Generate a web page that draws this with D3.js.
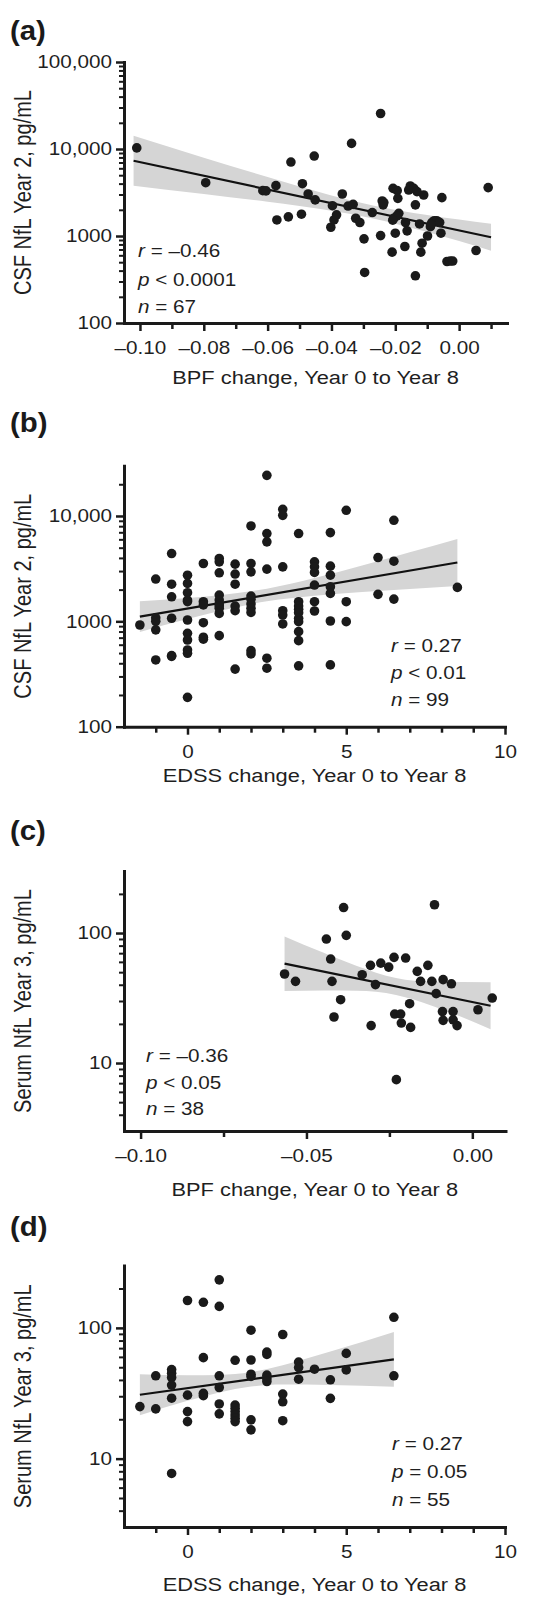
<!DOCTYPE html>
<html><head><meta charset="utf-8">
<script src="https://cdn.jsdelivr.net/npm/d3@7"></script>
<style>
html,body{margin:0;padding:0;background:#fff;}
svg{display:block;font-family:"Liberation Sans",Arial,Helvetica,sans-serif;}
svg text{font-family:"Liberation Sans",Arial,Helvetica,sans-serif;}
</style></head><body>
<svg id="chart" width="540" height="1607"></svg>
<script>
// ---------- Panel (a): CSF NfL Year 2 vs BPF change ----------
const aX = [-0.1010,-0.0794,-0.0615,-0.0605,-0.0574,-0.0571,-0.0535,-0.0527,-0.0494,-0.0491,
  -0.0473,-0.0454,-0.0451,-0.0402,-0.0397,-0.0392,-0.0384,-0.0366,-0.0348,-0.0337,
  -0.0332,-0.0324,-0.0311,-0.0298,-0.0296,-0.0272,-0.0246,-0.0246,-0.0241,-0.0238,
  -0.0236,-0.0210,-0.0207,-0.0205,-0.0200,-0.0194,-0.0192,-0.0189,-0.0195,-0.0170,
  -0.0168,-0.0163,-0.0158,-0.0153,-0.0142,-0.0137,-0.0137,-0.0132,-0.0124,-0.0120,
  -0.0116,-0.0111,-0.0099,-0.0090,-0.0085,-0.0078,-0.0070,-0.0061,-0.0057,-0.0054,
  -0.0038,-0.0028,-0.0020,0.0053,0.0091,-0.0088,-0.0208];
const aY = [10300,4100,3320,3300,3790,1530,1660,7080,1780,3990,
  3040,8300,2600,1260,2230,1530,1750,3040,2210,11600,
  2310,1600,1430,927,381,1860,25600,1010,2530,2280,
  2420,652,3530,1600,1077,3320,2710,1825,1700,757,
  1430,1146,3380,3760,3530,349,2280,3240,1376,652,
  826,2960,1000,1280,1430,1500,1500,1430,1077,2760,
  509,515,515,681,3600,1350,1520];
const aFitX = [-0.102, 0.010];
const aFitY = [7330, 968];
const aBandX = [-0.102,-0.08,-0.06,-0.04,-0.027,-0.01,0.01];
const aBandHi = [14160,7955,4760,2930,2244,1740,1384];
const aBandLo = [3793,3043,2470,1946,1589,1110,678];
const aXTicks = [-0.10,-0.08,-0.06,-0.04,-0.02,0.00];
const aXTickLabels = ["\u20130.10","\u20130.08","\u20130.06","\u20130.04","\u20130.02","0.00"];
const aXMinor = [-0.09,-0.07,-0.05,-0.03,-0.01,0.01];
const aYTicks = [100,1000,10000,100000];
const aYTickLabels = ["100","1000","10,000","100,000"];
const aYMinor = [200,300,400,500,600,700,800,900,2000,3000,4000,5000,6000,7000,8000,9000,20000,30000,40000,50000,60000,70000,80000,90000];
const aStats = [["r"," = \u20130.46"],["p"," < 0.0001"],["n"," = 67"]];

// ---------- Panel (b): CSF NfL Year 2 vs EDSS change ----------
const bEdss = [-1.5,-1,-0.5,0,0.5,1,1.5,2,2.5,3,3.5,4,4.5,5,6,6.5,8.5];
const bNfl = [
  [923],
  [2520,1080,1000,830,430],
  [4400,2250,1710,1070,473,465],
  [2740,2290,1870,1590,1540,1030,769,665,535,498,190],
  [3540,1535,1430,970,706,677],
  [3950,3670,2890,1775,1590,1460,1400,1330,1190,731],
  [3490,2810,2250,1395,1262,352],
  [8040,3540,2950,1738,1616,1460,1330,1216,527,491],
  [24300,6810,5680,3130,447,359],
  [11560,10140,3290,1262,1148,944],
  [6810,1535,1397,1300,1208,1067,993,798,656,378],
  [3670,3290,2910,2210,1535,1253],
  [6950,3340,2740,2130,1840,1007,386],
  [11320,1535,993],
  [4030,1803],
  [9100,3720,1625],
  [2100]
];
const bFitX = [-1.5, 8.5];
const bFitY = [1109, 3615];
const bBandX = [-1.5,0,1,2.5,4,5.5,7,8.5];
const bBandHi = [1549,1667,1770,2042,2576,3388,4519,6039];
const bBandLo = [794,1052,1253,1549,1750,1897,2028,2163];
const edssTicks = [0,5,10];
const edssTickLabels = ["0","5","10"];
const edssMinor = [-1,1,2,3,4,6,7,8,9];
const bYTicks = [100,1000,10000];
const bYTickLabels = ["100","1000","10,000"];
const bYMinor = [200,300,400,500,600,700,800,900,2000,3000,4000,5000,6000,7000,8000,9000,20000];
const bStats = [["r"," = 0.27"],["p"," < 0.01"],["n"," = 99"]];

// ---------- Panel (c): Serum NfL Year 3 vs BPF change ----------
const cX = [-0.0566,-0.0533,-0.0440,-0.0427,-0.0423,-0.0417,-0.0397,-0.0388,-0.0380,-0.0332,
  -0.0307,-0.0305,-0.0292,-0.0276,-0.0252,-0.0236,-0.0234,-0.0229,-0.0216,-0.0214,
  -0.0201,-0.0189,-0.0186,-0.0166,-0.0156,-0.0134,-0.0122,-0.0114,-0.0109,-0.0090,
  -0.0088,-0.0088,-0.0063,-0.0058,-0.0058,-0.0046,0.0017,0.0060];
const cY = [48.4,42.5,89.9,63.1,42.5,22.6,30.7,157,96,47.8,
  56.4,19.4,40.1,58.7,54.7,65,23.8,7.45,23.8,20.3,
  64.2,28.6,18.8,50.7,42.5,56.4,42.5,165,34.2,24.9,
  43.8,21.3,40.7,24.9,21.5,19.4,25.7,31.6];
const cFitX = [-0.0566, 0.0055];
const cFitY = [58.1, 27.6];
const cBandX = [-0.0566,-0.045,-0.035,-0.023,-0.012,0.0055];
const cBandHi = [94.2,70.8,56.1,45.1,42.1,41.8];
const cBandLo = [35.8,36.1,35.9,33.4,27.5,18.2];
const cXTicks = [-0.10,-0.05,0.00];
const cXTickLabels = ["\u20130.10","\u20130.05","0.00"];
const cXMinor = [-0.075,-0.025];
const serumYTicks = [10,100];
const serumYTickLabels = ["10","100"];
const serumYMinor = [4,5,6,7,8,9,20,30,40,50,60,70,80,90,200];
const cStats = [["r"," = \u20130.36"],["p"," < 0.05"],["n"," = 38"]];

// ---------- Panel (d): Serum NfL Year 3 vs EDSS change ----------
const dEdss = [-1.5,-1,-0.5,0,0.5,1,1.5,2,2.5,3,3.5,4,4.5,5,6.5];
const dNfl = [
  [25],
  [43,24],
  [48,45,41.7,36.5,29,7.7],
  [162,30.6,22.9,19.2],
  [157,59.2,31.6,30.3],
  [233,146,43,35,26.2,22],
  [56.5,25.7,24.3,22.9,21.6,20.4,19.2],
  [96,56.8,44.2,42.5,19.8,16.6],
  [65.3,62.7,43.5,41,38.9],
  [89,31.2,27.2,19.5],
  [54.8,49.7,40.5],
  [48.3],
  [40.1,28.9],
  [63.8,47.7],
  [120.5,43]
];
const dFitX = [-1.5, 6.5];
const dFitY = [30.8, 57.4];
const dBandX = [-1.5,0,1,2,3,4.5,6.5];
const dBandHi = [44.2,43.4,43.6,45.9,51.9,65.9,93.1];
const dBandLo = [21.5,27.7,32.1,35.6,36.9,36.6,35.4];
const dStats = [["r"," = 0.27"],["p"," = 0.05"],["n"," = 55"]];

const bpfTitle = "BPF change, Year 0 to Year 8";
const edssTitle = "EDSS change, Year 0 to Year 8";
const csfTitle = "CSF NfL Year 2, pg/mL";
const serumTitle = "Serum NfL Year 3, pg/mL";

// ---------- drawing ----------
const SX = 1.15;
const INK = "#1a1a1a";
const TXT = "#1f1f1f";
const FONT = "'Liberation Sans', Arial, Helvetica, sans-serif";
const svg = d3.select("#chart");

function flatten(xs, groups){
  const px = [], py = [];
  xs.forEach((x,i)=>groups[i].forEach(v=>{px.push(x); py.push(v);}));
  return [px, py];
}

function panel(c){
  const g = svg.append("g");
  const x = d3.scaleLinear().domain(c.xDomain).range([c.left, c.right]);
  const y = d3.scaleLog().domain(c.yDomain).range([c.bottom, c.top]);

  // confidence band
  const area = d3.area()
    .x(d=>x(d[0])).y0(d=>y(d[2])).y1(d=>y(d[1]))
    .curve(d3.curveMonotoneX);
  g.append("path").datum(d3.zip(c.bandX, c.bandHi, c.bandLo))
    .attr("d", area).attr("fill", "#d5d5d5");

  // regression line
  g.append("path").datum(d3.zip(c.fitX, c.fitY))
    .attr("d", d3.line().x(d=>x(d[0])).y(d=>y(d[1])))
    .attr("stroke", "#111").attr("stroke-width", 2.2).attr("fill", "none");

  // points
  g.append("g").selectAll("circle").data(d3.zip(c.px, c.py)).join("circle")
    .attr("cx", d=>x(d[0])).attr("cy", d=>y(d[1])).attr("r", 4.8)
    .attr("fill", INK);

  // y axis minor
  g.append("g").attr("transform", `translate(${c.left},0)`)
    .call(d3.axisLeft(y).tickValues(c.yMinor).tickSize(5).tickFormat(""))
    .call(s=>s.select(".domain").remove())
    .call(s=>s.selectAll("line").attr("stroke", INK).attr("stroke-width", 2));
  // y axis major
  const ya = g.append("g").attr("transform", `translate(${c.left},0)`)
    .call(d3.axisLeft(y).tickValues(c.yTicks).tickSize(8).tickSizeOuter(0)
      .tickFormat((d,i)=>c.yTickLabels[i]));
  // x axis minor
  g.append("g").attr("transform", `translate(0,${c.bottom})`)
    .call(d3.axisBottom(x).tickValues(c.xMinor).tickSize(6).tickFormat(""))
    .call(s=>s.select(".domain").remove())
    .call(s=>s.selectAll("line").attr("stroke", INK).attr("stroke-width", 2.5));
  // x axis major
  const xa = g.append("g").attr("transform", `translate(0,${c.bottom})`)
    .call(d3.axisBottom(x).tickValues(c.xTicks).tickSize(8).tickSizeOuter(0)
      .tickFormat((d,i)=>c.xTickLabels[i]));

  [ya, xa].forEach(a=>{
    a.attr("font-family", FONT).attr("font-size", 18);
    a.select(".domain").attr("stroke", INK).attr("stroke-width", 3).attr("stroke-linecap", "square");
    a.selectAll(".tick line").attr("stroke", INK).attr("stroke-width", 2.5);
    a.selectAll("text").attr("font-size", 18).attr("fill", TXT);
  });
  ya.selectAll("text").attr("x", -12/SX).attr("transform", `scale(${SX},1)`);
  xa.selectAll("text").attr("y", 0).attr("dy", null).attr("transform", `translate(0,31) scale(${SX},1)`);

  // x title
  g.append("text").attr("transform", `translate(${(c.left+c.right)/2},${c.xTitleY}) scale(${SX},1)`)
    .attr("text-anchor", "middle").attr("font-family", FONT).attr("font-size", 19).attr("fill", TXT).text(c.xTitle);
  // y title
  g.append("text").attr("transform", `translate(31,${(c.top+c.bottom)/2}) scale(${SX},1) rotate(-90)`)
    .attr("text-anchor", "middle").attr("font-family", FONT).attr("font-size", 20).attr("fill", TXT).text(c.yTitle);

  // panel label
  g.append("text").attr("transform", `translate(10,${c.labelY}) scale(1.05,1)`)
    .attr("font-family", FONT).attr("font-size", 28).attr("font-weight", "bold").attr("fill", "#1a1a1a").text(c.label);

  // stats
  c.stats.forEach((s,i)=>{
    const t = g.append("text")
      .attr("transform", `translate(${c.statX},${c.statY[i]}) scale(${SX},1)`)
      .attr("font-family", FONT).attr("font-size", 18).attr("fill", TXT);
    t.append("tspan").attr("font-style", "italic").text(s[0]);
    t.append("tspan").text(s[1]);
  });
}

const [bPx, bPy] = flatten(bEdss, bNfl);
const [dPx, dPy] = flatten(dEdss, dNfl);

panel({label:"(a)", labelY:40, left:124, right:507, top:62, bottom:323,
  xDomain:[-0.105,0.015], yDomain:[100,100000], px:aX, py:aY,
  fitX:aFitX, fitY:aFitY, bandX:aBandX, bandHi:aBandHi, bandLo:aBandLo,
  xTicks:aXTicks, xTickLabels:aXTickLabels, xMinor:aXMinor,
  yTicks:aYTicks, yTickLabels:aYTickLabels, yMinor:aYMinor,
  xTitle:bpfTitle, xTitleY:384, yTitle:csfTitle,
  stats:aStats, statX:138, statY:[257,286,313]});

panel({label:"(b)", labelY:432, left:124, right:505, top:465.7, bottom:726.7,
  xDomain:[-2,10], yDomain:[100,30000], px:bPx, py:bPy,
  fitX:bFitX, fitY:bFitY, bandX:bBandX, bandHi:bBandHi, bandLo:bBandLo,
  xTicks:edssTicks, xTickLabels:edssTickLabels, xMinor:edssMinor,
  yTicks:bYTicks, yTickLabels:bYTickLabels, yMinor:bYMinor,
  xTitle:edssTitle, xTitleY:782, yTitle:csfTitle,
  stats:bStats, statX:391, statY:[652,679,706]});

panel({label:"(c)", labelY:840, left:124, right:505.5, top:871, bottom:1131,
  xDomain:[-0.105,0.01], yDomain:[3,300], px:cX, py:cY,
  fitX:cFitX, fitY:cFitY, bandX:cBandX, bandHi:cBandHi, bandLo:cBandLo,
  xTicks:cXTicks, xTickLabels:cXTickLabels, xMinor:cXMinor,
  yTicks:serumYTicks, yTickLabels:serumYTickLabels, yMinor:serumYMinor,
  xTitle:bpfTitle, xTitleY:1196, yTitle:serumTitle,
  stats:cStats, statX:146, statY:[1062,1088.5,1115]});

panel({label:"(d)", labelY:1236, left:124, right:505, top:1265.5, bottom:1527,
  xDomain:[-2,10], yDomain:[3,300], px:dPx, py:dPy,
  fitX:dFitX, fitY:dFitY, bandX:dBandX, bandHi:dBandHi, bandLo:dBandLo,
  xTicks:edssTicks, xTickLabels:edssTickLabels, xMinor:edssMinor,
  yTicks:serumYTicks, yTickLabels:serumYTickLabels, yMinor:serumYMinor,
  xTitle:edssTitle, xTitleY:1591, yTitle:serumTitle,
  stats:dStats, statX:392, statY:[1450,1478,1506]});
</script>
</body></html>
